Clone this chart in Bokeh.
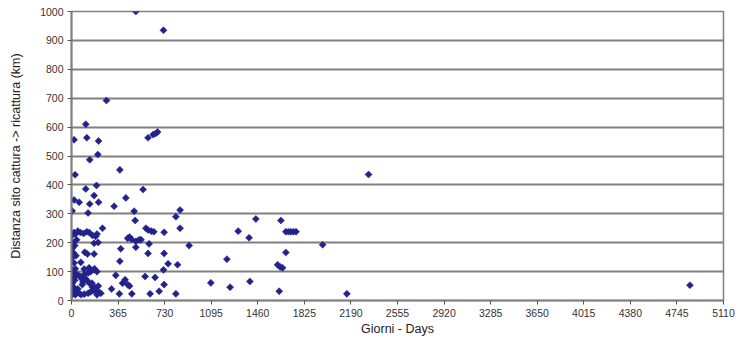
import numpy as np
from bokeh.plotting import figure
from bokeh.models import FixedTicker, Range1d, ColumnDataSource
from bokeh.embed import file_html
from bokeh.resources import INLINE

# Days between capture and recapture
days = [
    # dense column near 0
    5, 15, 30, 10, 40, 20, 5, 25, 10, 35, 15, 45, 5, 30, 20, 8, 35, 15, 5, 25,
    10, 40, 5, 20, 50, 30, 5, 20, 60, 28, 20,
    # 60-250 days
    70, 95, 120, 140, 165, 190, 200, 177, 209, 104, 125, 177, 73, 99, 138, 177,
    90, 165, 190, 216, 75, 100, 130, 150, 200, 230, 243, 112, 130, 143, 212, 177,
    196, 143, 206, 112, 120, 212,
    50, 60, 85, 110, 140, 170, 185, 210, 160, 120, 80, 65, 100, 130, 150, 180, 200,
    # 250-1000 days
    274, 379, 561, 426, 334, 851, 818, 491, 499, 851, 726, 922, 831, 757, 726, 721,
    726, 818, 687, 577, 655, 616, 600, 608, 583, 600, 625, 645, 473, 375, 314, 347,
    400, 420, 440, 455, 386, 379, 440, 455, 470, 505, 530, 545, 504,
    600, 640, 660, 675, 504, 721,
    # > 1000 days
    1092, 1218, 1243, 1306, 1392, 1398, 1445, 1641, 1680, 1700, 1720, 1740, 1760,
    1968, 1680, 1615, 1635, 1654, 1628, 2158, 2328, 4847,
]

# Distance capture site -> recapture site (km)
dist_km = [
    20, 25, 20, 35, 30, 45, 60, 70, 80, 85, 95, 90, 105, 110, 130, 150, 155, 165, 180, 190,
    200, 210, 225, 235, 240, 230, 310, 348, 340, 435, 556,
    235, 232, 238, 235, 225, 222, 230, 198, 201, 167, 161, 161, 132, 109, 113, 106,
    65, 46, 34, 28, 20, 22, 25, 30, 20, 25, 250, 386, 303, 334, 340, 363,
    398, 487, 505, 610, 563, 552,
    40, 25, 55, 75, 60, 35, 45, 50, 60, 70, 75, 85, 90, 95, 100, 110, 100,
    692, 452, 384, 355, 326, 313, 290, 309, 277, 250, 236, 190, 124, 127, 163, 106,
    55, 23, 32, 83, 80, 23, 163, 196, 250, 244, 240, 238, 23, 23, 40, 87,
    60, 72, 55, 50, 179, 136, 215, 220, 212, 205, 210, 210, 184,
    563, 574, 578, 583, 1000, 935,
    61, 143, 46, 240, 217, 66, 282, 277, 238, 238, 238, 238, 238,
    193, 166, 124, 116, 113, 32, 23, 436, 53,
]

x_ticks = [0, 365, 730, 1095, 1460, 1825, 2190, 2555, 2920, 3285, 3650, 4015, 4380, 4745, 5110]
y_ticks = [0, 100, 200, 300, 400, 500, 600, 700, 800, 900, 1000]

x_label = "Giorni - Days"
y_label = "Distanza sito cattura -> ricattura (km)"

FONT = "Liberation Sans"
GRID = "#808080"

p = figure(width=747, height=340, output_backend="svg", toolbar_location=None,
           x_range=Range1d(0, 5110), y_range=Range1d(0, 1000))
p.min_border_left = 71
p.min_border_right = 24
p.min_border_top = 11
p.min_border_bottom = 40
p.background_fill_color = "white"
p.border_fill_color = "white"
p.outline_line_color = GRID
p.outline_line_width = 1.5

src = ColumnDataSource(dict(x=days, y=dist_km))
p.scatter("x", "y", source=src, marker="square", angle=np.pi / 4, size=5,
          fill_color="#22228c", line_color="#22228c", line_width=0.5)

p.xaxis.ticker = FixedTicker(ticks=x_ticks)
p.yaxis.ticker = FixedTicker(ticks=y_ticks)
p.xaxis.minor_tick_line_color = None
p.yaxis.minor_tick_line_color = None
for ax in (p.xaxis[0], p.yaxis[0]):
    ax.axis_line_color = GRID
    ax.axis_line_width = 2
    ax.major_tick_line_color = "#555555"
    ax.major_tick_line_width = 1
    ax.major_tick_in = 0
    ax.major_tick_out = 4
    ax.major_label_text_font = FONT
    ax.major_label_text_font_size = "10.5px"
    ax.major_label_text_color = "#333333"
    ax.axis_label_text_font = FONT
    ax.axis_label_text_font_size = "12.5px"
    ax.axis_label_text_font_style = "normal"
    ax.axis_label_text_color = "#222222"
p.xaxis.major_label_standoff = 4
p.yaxis.major_label_standoff = 4
p.yaxis.axis_label = y_label
p.yaxis.axis_label_standoff = 14
p.xaxis.axis_label = x_label
p.xaxis.axis_label_standoff = 2

p.xgrid.grid_line_color = None
p.ygrid.grid_line_color = GRID
p.ygrid.grid_line_width = 2

open("out.html", "w").write(file_html(p, INLINE))
